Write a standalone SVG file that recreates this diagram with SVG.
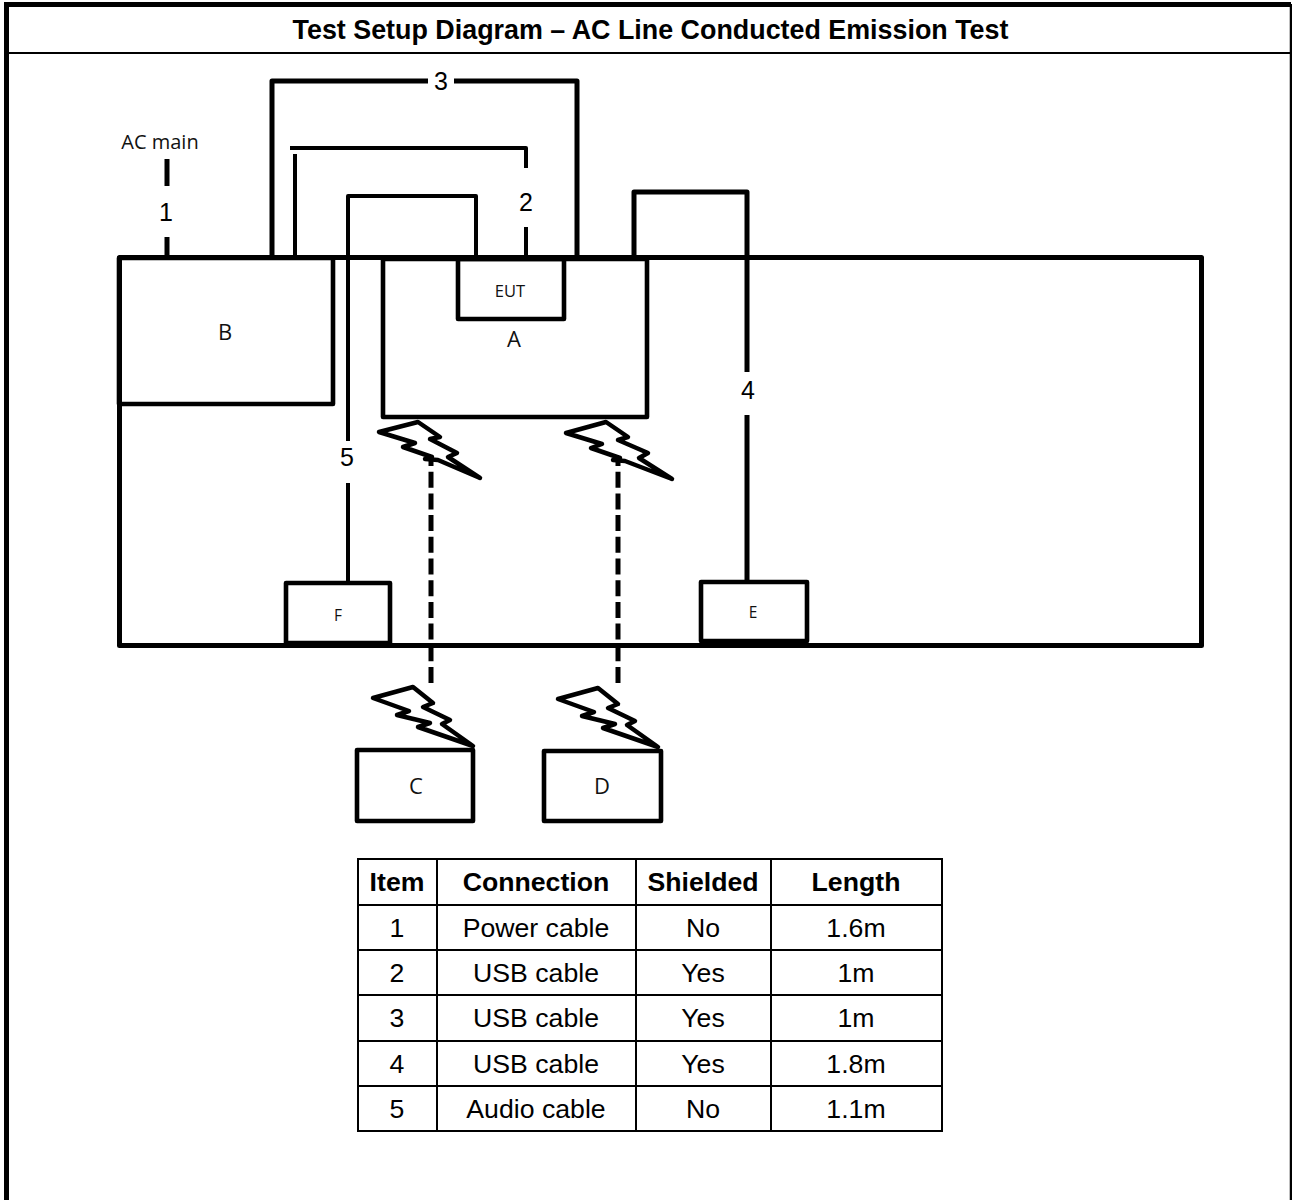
<svg xmlns="http://www.w3.org/2000/svg" width="1292" height="1200" viewBox="0 0 1292 1200">
<style>
.w{fill:none;stroke:#000;stroke-width:5;stroke-linejoin:round}
.n{fill:none;stroke:#000;stroke-width:4;stroke-linejoin:round}
.r{fill:none;stroke:#000;stroke-width:4.600;stroke-linejoin:round}
.z{fill:none;stroke:#000;stroke-width:4.500;stroke-linejoin:round}
.d{fill:none;stroke:#000;stroke-width:5;stroke-dasharray:16 5.700}
.g{fill:none;stroke:#000;stroke-width:2}
.t{font-family:"Open Sans","Noto Sans",sans-serif;fill:#111;text-anchor:middle}
.l{font-family:"Liberation Sans",Arial,sans-serif;fill:#000;text-anchor:middle;font-size:26.670px}
.h{font-family:"Liberation Sans",Arial,sans-serif;fill:#000;text-anchor:middle;font-size:26.670px;font-weight:bold}
.c{font-family:"Liberation Sans",Arial,sans-serif;fill:#000;text-anchor:middle;font-size:25px}
</style>
<rect width="1292" height="1200" fill="#fff"/>
<g id="frame">
<path d="M6.500 1200V4.500H1291" fill="none" stroke="#000" stroke-width="5"/>
<path d="M1291 4V1200" fill="none" stroke="#000" stroke-width="2.500"/>
<path d="M4 53H1291" fill="none" stroke="#000" stroke-width="2"/>
<text x="650.500" y="39" class="h" style="font-size:26.860px">Test Setup Diagram – AC Line Conducted Emission Test</text>
</g>
<g id="bench"><rect x="119.500" y="257.500" width="1082" height="388" class="w"/></g>
<g id="connectors">
<path class="w" d="M167 159V186M167 237V257"/>
<path class="w" d="M272 257V81H428M454 81H577V257"/>
<path class="n" d="M295 154V257M290 148H526V168M526 227V257"/>
<path class="n" d="M348 441V196H476V257M348 483V583"/>
<path class="w" d="M634 257V192H747V372M747 415V582"/>
<path class="d" d="M431 683V458"/>
<path class="d" d="M618 683V458"/>
</g>
<g id="node-B"><rect x="119" y="258" width="214" height="146" class="r"/><text x="225" y="340" font-size="22" class="t">B</text></g>
<g id="node-A"><rect x="383" y="259" width="264" height="158" class="r"/><text x="514" y="347" font-size="22" class="t">A</text></g>
<g id="node-EUT"><rect x="458" y="259" width="106" height="60" class="r"/><text x="510" y="297" font-size="16.500" class="t">EUT</text></g>
<g id="node-F"><rect x="286" y="583" width="104" height="60" class="r"/><text x="338" y="621" font-size="15.500" class="t">F</text></g>
<g id="node-E"><rect x="701" y="582" width="106" height="59" class="r"/><text x="753" y="618" font-size="15.500" class="t">E</text></g>
<g id="node-C"><rect x="357" y="750" width="116" height="71" class="r"/><text x="416" y="794" font-size="22" class="t">C</text></g>
<g id="node-D"><rect x="544" y="751" width="117" height="70" class="r"/><text x="602" y="794" font-size="22" class="t">D</text></g>
<g id="bolts">
<path id="bolt1" class="z" d="M379 432L418 422L440 437L430 439L457 453L448 457L480 478L438 460L425 459L432 457L403 447L415 443Z"/>
<path id="bolt2" class="z" d="M566 433L606 422L628 437L618 440L648 453L639 458L672 479L625 461L613 460L620 458L591 448L602 444Z"/>
<path id="bolt3" class="z" d="M373 698L413 687L433 703L423 707L450 720L442 724L473 746L418 727L430 723L397 715L409 711Z"/>
<path id="bolt4" class="z" d="M558 699L598 688L618 704L608 708L635 721L627 725L658 747L603 728L615 724L582 716L594 712Z"/>
</g>
<g id="labels">
<text x="160" y="149" font-size="20" class="t">AC main</text>
<text x="166" y="221" class="c">1</text>
<text x="526" y="211" class="c">2</text>
<text x="441" y="90" class="c">3</text>
<text x="748" y="399" class="c">4</text>
<text x="347" y="466" class="c">5</text>
</g>
<g id="table">
<path class="g" d="M358 859H942V1131H358ZM437 859V1131M636 859V1131M771 859V1131M358 905H942M358 950H942M358 995H942M358 1041H942M358 1086H942"/>
<text x="397" y="891" class="h">Item</text><text x="536" y="891" class="h">Connection</text><text x="703" y="891" class="h">Shielded</text><text x="856" y="891" class="h">Length</text>
<text x="397" y="937" class="l">1</text><text x="536" y="937" class="l">Power cable</text><text x="703" y="937" class="l">No</text><text x="856" y="937" class="l">1.6m</text>
<text x="397" y="982" class="l">2</text><text x="536" y="982" class="l">USB cable</text><text x="703" y="982" class="l">Yes</text><text x="856" y="982" class="l">1m</text>
<text x="397" y="1027" class="l">3</text><text x="536" y="1027" class="l">USB cable</text><text x="703" y="1027" class="l">Yes</text><text x="856" y="1027" class="l">1m</text>
<text x="397" y="1073" class="l">4</text><text x="536" y="1073" class="l">USB cable</text><text x="703" y="1073" class="l">Yes</text><text x="856" y="1073" class="l">1.8m</text>
<text x="397" y="1118" class="l">5</text><text x="536" y="1118" class="l">Audio cable</text><text x="703" y="1118" class="l">No</text><text x="856" y="1118" class="l">1.1m</text>
</g>
</svg>
